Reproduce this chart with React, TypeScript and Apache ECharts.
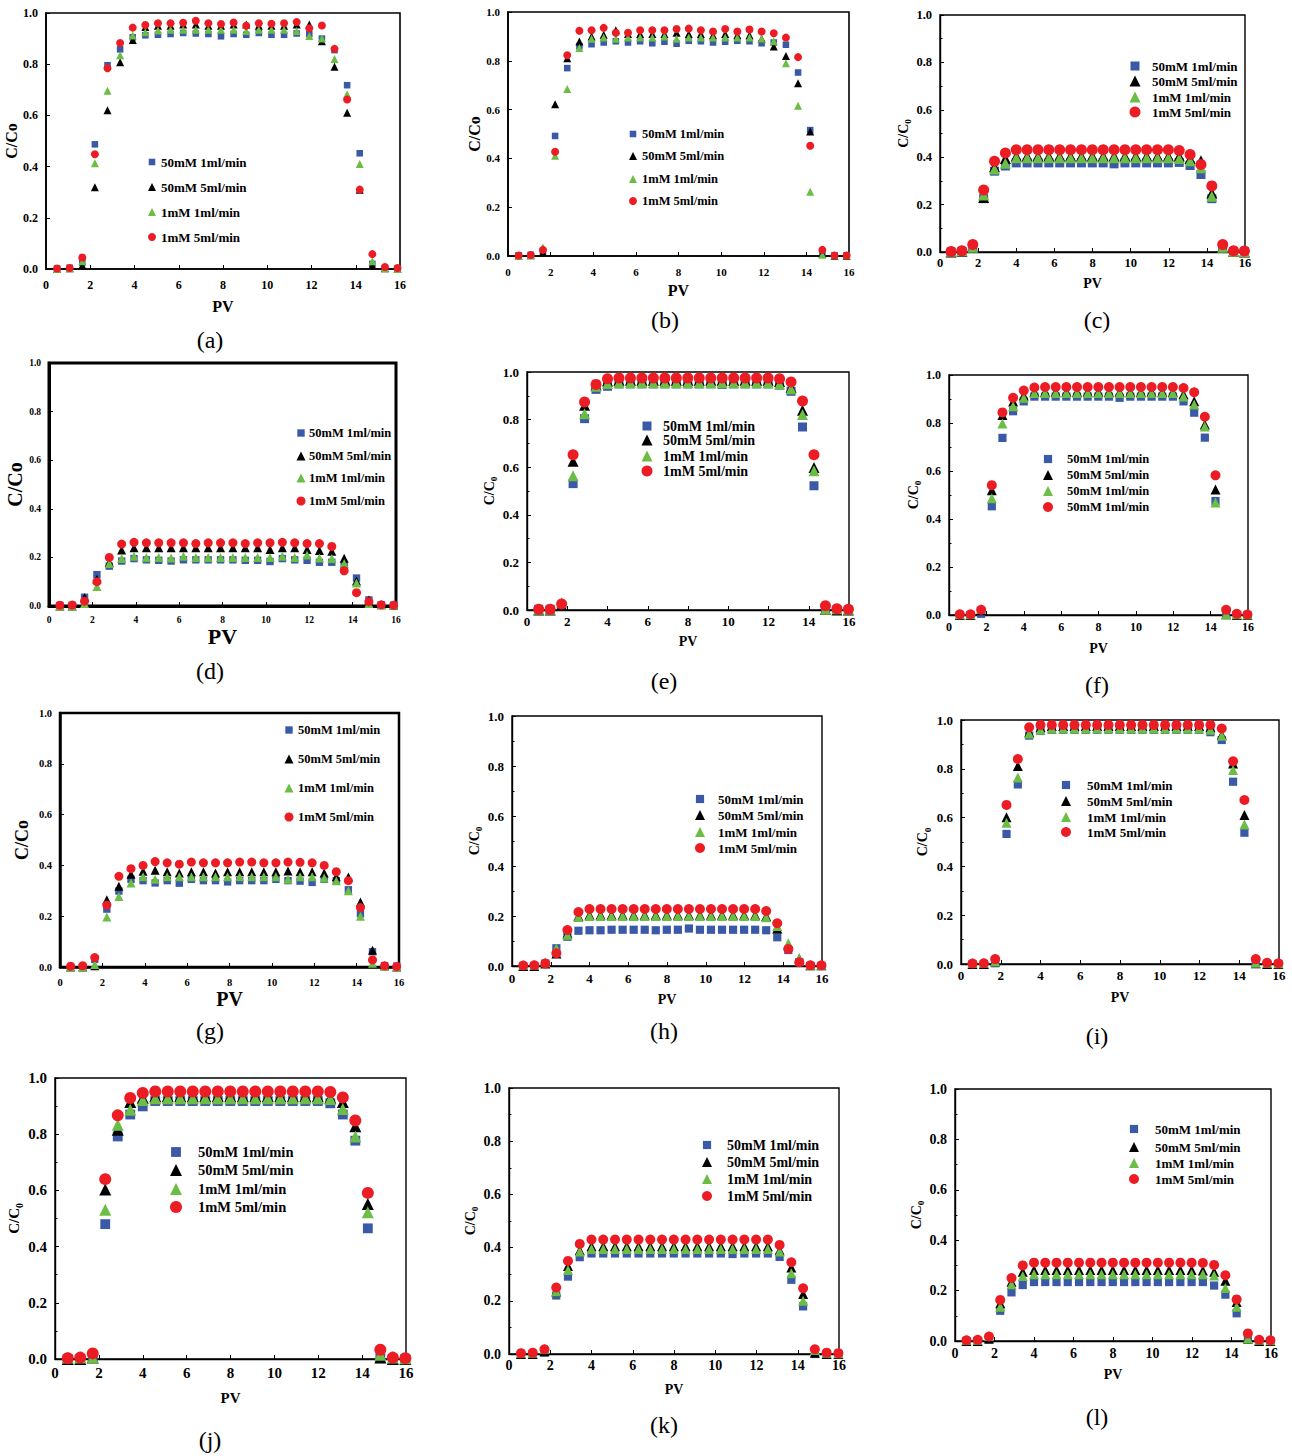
import React, { useEffect, useRef } from "react";
import * as echarts from "echarts";

// Sampling points (pore volumes) for the two column runs
const PV_A = [0.5, 1.07, 1.64, 2.21, 2.78, 3.35, 3.92, 4.49, 5.06, 5.63, 6.2, 6.77, 7.34, 7.91, 8.48, 9.05, 9.62, 10.19, 10.76, 11.33, 11.9, 12.47, 13.04, 13.61, 14.18, 14.75, 15.32, 15.89];
const PV_B = [0.58, 1.15, 1.72, 2.29, 2.86, 3.43, 4.0, 4.57, 5.14, 5.71, 6.28, 6.85, 7.42, 7.99, 8.56, 9.13, 9.7, 10.27, 10.84, 11.41, 11.98, 12.55, 13.12, 13.69, 14.26, 14.83, 15.4, 15.97];

const NAMES = ["50mM 1ml/min", "50mM 5ml/min", "1mM 1ml/min", "1mM 5ml/min"];
const NAMES_F = ["50mM 1ml/min", "50mM 5ml/min", "50mM 1ml/min", "50mM 1ml/min"];
const TAGS = ["(a)", "(b)", "(c)", "(d)", "(e)", "(f)", "(g)", "(h)", "(i)", "(j)", "(k)", "(l)"];

// (a)
const A_50_1 = [0.002, 0.005, 0.025, 0.487, 0.796, 0.858, 0.905, 0.913, 0.915, 0.918, 0.922, 0.92, 0.918, 0.909, 0.918, 0.915, 0.922, 0.915, 0.915, 0.92, 0.918, 0.9, 0.855, 0.718, 0.452, 0.02, 0.003, 0.003];
const A_50_5 = [0, 0.003, 0.015, 0.319, 0.62, 0.808, 0.895, 0.945, 0.95, 0.95, 0.955, 0.955, 0.95, 0.95, 0.955, 0.955, 0.95, 0.95, 0.95, 0.955, 0.955, 0.89, 0.79, 0.61, 0.31, 0.015, 0.003, 0];
const A_1_1 = [0, 0.003, 0.03, 0.413, 0.696, 0.835, 0.912, 0.925, 0.932, 0.935, 0.935, 0.935, 0.935, 0.935, 0.935, 0.93, 0.935, 0.935, 0.935, 0.93, 0.91, 0.9, 0.82, 0.683, 0.41, 0.03, 0.003, 0];
const A_1_5 = [0.002, 0.004, 0.045, 0.448, 0.784, 0.883, 0.943, 0.953, 0.96, 0.96, 0.962, 0.97, 0.96, 0.957, 0.963, 0.95, 0.96, 0.958, 0.96, 0.965, 0.94, 0.951, 0.86, 0.662, 0.31, 0.058, 0.008, 0.004];
// (b)
const B_50_1 = [0.003, 0.005, 0.02, 0.492, 0.77, 0.86, 0.868, 0.875, 0.88, 0.875, 0.88, 0.872, 0.878, 0.87, 0.882, 0.88, 0.875, 0.878, 0.882, 0.88, 0.872, 0.875, 0.866, 0.752, 0.516, 0.01, 0.003, 0.003];
const B_50_5 = [0, 0.003, 0.015, 0.622, 0.81, 0.879, 0.9, 0.907, 0.925, 0.91, 0.91, 0.91, 0.91, 0.915, 0.91, 0.91, 0.905, 0.91, 0.905, 0.905, 0.89, 0.859, 0.82, 0.708, 0.51, 0.01, 0, 0];
const B_1_1 = [0, 0.003, 0.035, 0.411, 0.684, 0.852, 0.89, 0.895, 0.89, 0.895, 0.895, 0.895, 0.9, 0.89, 0.895, 0.895, 0.895, 0.895, 0.895, 0.895, 0.89, 0.88, 0.79, 0.616, 0.263, 0.005, 0.002, 0.002];
const B_1_5 = [0.002, 0.004, 0.025, 0.427, 0.823, 0.923, 0.925, 0.935, 0.915, 0.915, 0.925, 0.925, 0.925, 0.93, 0.932, 0.925, 0.92, 0.93, 0.92, 0.928, 0.92, 0.913, 0.895, 0.815, 0.452, 0.025, 0.002, 0.002];
// (c)
const C_50_1 = [0, 0.002, 0.02, 0.225, 0.341, 0.363, 0.376, 0.376, 0.376, 0.376, 0.376, 0.376, 0.376, 0.376, 0.376, 0.372, 0.376, 0.376, 0.376, 0.376, 0.376, 0.378, 0.365, 0.327, 0.225, 0.015, 0.002, 0.002];
const C_50_5 = [0, 0.003, 0.02, 0.23, 0.36, 0.395, 0.405, 0.405, 0.405, 0.405, 0.405, 0.405, 0.405, 0.405, 0.405, 0.405, 0.405, 0.405, 0.405, 0.405, 0.405, 0.405, 0.395, 0.385, 0.249, 0.02, 0.003, 0];
const C_1_1 = [0.003, 0.005, 0.02, 0.24, 0.35, 0.375, 0.398, 0.398, 0.398, 0.398, 0.398, 0.398, 0.398, 0.398, 0.398, 0.398, 0.398, 0.398, 0.398, 0.398, 0.398, 0.395, 0.385, 0.355, 0.235, 0.02, 0.003, 0.002];
const C_1_5 = [0.002, 0.005, 0.032, 0.262, 0.383, 0.418, 0.431, 0.431, 0.431, 0.431, 0.431, 0.431, 0.431, 0.431, 0.431, 0.431, 0.431, 0.431, 0.431, 0.431, 0.431, 0.428, 0.411, 0.369, 0.279, 0.032, 0.005, 0.004];
// (d)
const D_50_1 = [0.002, 0.003, 0.036, 0.129, 0.164, 0.185, 0.195, 0.19, 0.188, 0.185, 0.19, 0.19, 0.19, 0.19, 0.19, 0.188, 0.188, 0.183, 0.195, 0.19, 0.188, 0.18, 0.18, 0.165, 0.115, 0.025, 0.005, 0.003];
const D_50_5 = [0, 0, 0.035, 0.11, 0.18, 0.23, 0.24, 0.24, 0.24, 0.24, 0.24, 0.24, 0.24, 0.24, 0.24, 0.24, 0.24, 0.232, 0.24, 0.24, 0.232, 0.228, 0.225, 0.196, 0.103, 0.025, 0.005, 0.003];
const D_1_1 = [0, 0, 0.01, 0.08, 0.175, 0.195, 0.205, 0.2, 0.2, 0.198, 0.205, 0.2, 0.2, 0.2, 0.2, 0.2, 0.2, 0.2, 0.205, 0.2, 0.21, 0.198, 0.195, 0.175, 0.095, 0.01, 0.005, 0.003];
const D_1_5 = [0.003, 0.004, 0.02, 0.1, 0.2, 0.255, 0.262, 0.26, 0.26, 0.26, 0.26, 0.257, 0.26, 0.26, 0.26, 0.257, 0.26, 0.26, 0.262, 0.26, 0.257, 0.257, 0.245, 0.145, 0.055, 0.018, 0.005, 0.003];
// (e)
const E_50_1 = [0.003, 0.003, 0.015, 0.531, 0.804, 0.927, 0.94, 0.95, 0.95, 0.95, 0.95, 0.95, 0.95, 0.95, 0.95, 0.95, 0.948, 0.95, 0.95, 0.95, 0.95, 0.945, 0.919, 0.769, 0.522, 0, 0, 0];
const E_50_5 = [0, 0, 0.02, 0.625, 0.86, 0.945, 0.962, 0.965, 0.965, 0.965, 0.965, 0.965, 0.965, 0.965, 0.965, 0.965, 0.965, 0.965, 0.965, 0.965, 0.965, 0.96, 0.935, 0.839, 0.599, 0.003, 0, 0];
const E_1_1 = [0.003, 0.003, 0.03, 0.564, 0.825, 0.94, 0.952, 0.955, 0.955, 0.955, 0.955, 0.955, 0.955, 0.955, 0.955, 0.955, 0.955, 0.955, 0.955, 0.955, 0.955, 0.95, 0.93, 0.821, 0.585, 0.003, 0.005, 0.003];
const E_1_5 = [0.003, 0.003, 0.025, 0.652, 0.874, 0.948, 0.972, 0.975, 0.975, 0.975, 0.975, 0.975, 0.975, 0.975, 0.975, 0.975, 0.975, 0.975, 0.975, 0.975, 0.975, 0.972, 0.958, 0.878, 0.652, 0.018, 0.005, 0.003];
// (f)
const F_50_1 = [0, 0, 0.005, 0.453, 0.738, 0.849, 0.89, 0.91, 0.91, 0.91, 0.91, 0.91, 0.91, 0.91, 0.91, 0.905, 0.91, 0.91, 0.91, 0.91, 0.91, 0.89, 0.843, 0.739, 0.475, 0, 0, 0];
const F_50_5 = [0, 0, 0.02, 0.52, 0.833, 0.89, 0.915, 0.93, 0.93, 0.93, 0.93, 0.93, 0.93, 0.93, 0.93, 0.93, 0.93, 0.93, 0.93, 0.93, 0.93, 0.92, 0.891, 0.794, 0.523, 0.003, 0, 0];
const F_1_1 = [0.003, 0.003, 0.025, 0.486, 0.798, 0.87, 0.905, 0.925, 0.925, 0.925, 0.925, 0.925, 0.925, 0.925, 0.925, 0.925, 0.925, 0.925, 0.925, 0.925, 0.925, 0.91, 0.877, 0.785, 0.469, 0.003, 0.003, 0.002];
const F_1_5 = [0.003, 0.003, 0.022, 0.541, 0.844, 0.905, 0.935, 0.948, 0.95, 0.95, 0.95, 0.95, 0.95, 0.95, 0.95, 0.95, 0.95, 0.95, 0.95, 0.95, 0.95, 0.946, 0.928, 0.826, 0.582, 0.022, 0.005, 0.002];
// (g)
const G_50_1 = [0, 0, 0.03, 0.228, 0.299, 0.345, 0.34, 0.331, 0.34, 0.33, 0.345, 0.34, 0.34, 0.335, 0.34, 0.34, 0.34, 0.345, 0.34, 0.338, 0.333, 0.345, 0.34, 0.304, 0.21, 0.06, 0.005, 0.003];
const G_50_5 = [0, 0, 0.005, 0.265, 0.318, 0.365, 0.377, 0.381, 0.375, 0.37, 0.375, 0.375, 0.37, 0.375, 0.375, 0.375, 0.375, 0.375, 0.378, 0.375, 0.375, 0.37, 0.355, 0.354, 0.256, 0.066, 0.005, 0];
const G_1_1 = [0, 0, 0.01, 0.197, 0.278, 0.331, 0.355, 0.345, 0.355, 0.355, 0.355, 0.355, 0.355, 0.355, 0.355, 0.355, 0.355, 0.355, 0.345, 0.355, 0.355, 0.35, 0.34, 0.3, 0.2, 0.015, 0.003, 0];
const G_1_5 = [0.003, 0.005, 0.037, 0.244, 0.357, 0.387, 0.4, 0.415, 0.41, 0.405, 0.413, 0.41, 0.41, 0.41, 0.413, 0.413, 0.41, 0.41, 0.413, 0.412, 0.41, 0.4, 0.375, 0.34, 0.234, 0.028, 0.005, 0.002];
// (h)
const H_50_1 = [0, 0, 0.01, 0.071, 0.117, 0.141, 0.143, 0.143, 0.145, 0.145, 0.145, 0.145, 0.143, 0.145, 0.145, 0.15, 0.145, 0.145, 0.145, 0.145, 0.145, 0.145, 0.143, 0.115, 0.064, 0.015, 0, 0];
const H_50_5 = [0, 0, 0.01, 0.05, 0.13, 0.2, 0.205, 0.205, 0.205, 0.205, 0.205, 0.205, 0.205, 0.205, 0.205, 0.205, 0.205, 0.205, 0.205, 0.205, 0.205, 0.205, 0.2, 0.15, 0.085, 0.03, 0.003, 0.003];
const H_1_1 = [0.005, 0.005, 0.015, 0.07, 0.125, 0.196, 0.2, 0.2, 0.2, 0.2, 0.2, 0.2, 0.2, 0.2, 0.2, 0.2, 0.2, 0.2, 0.2, 0.2, 0.2, 0.2, 0.195, 0.16, 0.091, 0.03, 0.005, 0.005];
const H_1_5 = [0.002, 0.003, 0.01, 0.051, 0.144, 0.216, 0.228, 0.228, 0.228, 0.228, 0.228, 0.228, 0.228, 0.228, 0.228, 0.228, 0.228, 0.228, 0.228, 0.228, 0.228, 0.228, 0.22, 0.171, 0.068, 0.015, 0.003, 0.003];
// (i)
const I_50_1 = [0, 0, 0.003, 0.533, 0.736, 0.936, 0.955, 0.96, 0.96, 0.96, 0.96, 0.96, 0.96, 0.96, 0.96, 0.96, 0.96, 0.96, 0.96, 0.96, 0.96, 0.95, 0.918, 0.747, 0.538, 0, 0, 0];
const I_50_5 = [0, 0, 0.01, 0.601, 0.811, 0.95, 0.97, 0.975, 0.975, 0.975, 0.975, 0.975, 0.975, 0.975, 0.975, 0.975, 0.975, 0.975, 0.975, 0.975, 0.975, 0.97, 0.94, 0.822, 0.611, 0.003, 0, 0];
const I_1_1 = [0.005, 0.005, 0.01, 0.579, 0.764, 0.945, 0.96, 0.965, 0.965, 0.965, 0.965, 0.965, 0.965, 0.965, 0.965, 0.965, 0.965, 0.965, 0.965, 0.965, 0.965, 0.96, 0.935, 0.795, 0.572, 0.005, 0.005, 0.003];
const I_1_5 = [0.002, 0.003, 0.02, 0.652, 0.84, 0.97, 0.98, 0.98, 0.98, 0.98, 0.98, 0.98, 0.98, 0.98, 0.98, 0.98, 0.98, 0.98, 0.98, 0.98, 0.98, 0.98, 0.965, 0.831, 0.672, 0.02, 0.005, 0.003];
// (j)
const J_50_1 = [0, 0, 0.003, 0.48, 0.792, 0.87, 0.899, 0.918, 0.918, 0.918, 0.918, 0.918, 0.918, 0.918, 0.918, 0.918, 0.918, 0.918, 0.918, 0.918, 0.918, 0.91, 0.87, 0.777, 0.465, 0.003, 0, 0];
const J_50_5 = [0, 0, 0.005, 0.603, 0.816, 0.915, 0.93, 0.935, 0.935, 0.935, 0.935, 0.935, 0.935, 0.935, 0.935, 0.935, 0.935, 0.935, 0.935, 0.935, 0.935, 0.93, 0.915, 0.828, 0.552, 0.005, 0, 0];
const J_1_1 = [0.005, 0.005, 0.005, 0.531, 0.834, 0.887, 0.922, 0.928, 0.928, 0.928, 0.928, 0.928, 0.928, 0.928, 0.928, 0.928, 0.928, 0.928, 0.928, 0.928, 0.928, 0.925, 0.89, 0.792, 0.522, 0.015, 0.005, 0.003];
const J_1_5 = [0.003, 0.005, 0.02, 0.64, 0.867, 0.929, 0.947, 0.952, 0.952, 0.952, 0.952, 0.952, 0.952, 0.952, 0.952, 0.952, 0.952, 0.952, 0.952, 0.952, 0.952, 0.95, 0.931, 0.849, 0.591, 0.033, 0.005, 0.003];
// (k)
const K_50_1 = [0, 0, 0.005, 0.22, 0.291, 0.364, 0.378, 0.378, 0.378, 0.378, 0.378, 0.378, 0.378, 0.378, 0.378, 0.378, 0.378, 0.378, 0.376, 0.378, 0.378, 0.378, 0.365, 0.279, 0.179, 0, 0, 0];
const K_50_5 = [0, 0, 0.01, 0.235, 0.331, 0.39, 0.405, 0.405, 0.405, 0.405, 0.405, 0.405, 0.405, 0.405, 0.405, 0.405, 0.405, 0.405, 0.405, 0.405, 0.405, 0.405, 0.39, 0.325, 0.226, 0.005, 0, 0];
const K_1_1 = [0.005, 0.005, 0.02, 0.235, 0.316, 0.385, 0.395, 0.395, 0.395, 0.395, 0.395, 0.395, 0.395, 0.395, 0.395, 0.395, 0.395, 0.395, 0.395, 0.395, 0.395, 0.395, 0.385, 0.304, 0.2, 0.015, 0.005, 0.003];
const K_1_5 = [0.003, 0.005, 0.018, 0.25, 0.35, 0.414, 0.43, 0.43, 0.43, 0.43, 0.43, 0.43, 0.43, 0.43, 0.43, 0.43, 0.43, 0.43, 0.43, 0.43, 0.43, 0.43, 0.41, 0.345, 0.247, 0.018, 0.005, 0.003];
// (l)
const L_50_1 = [0, 0, 0.005, 0.12, 0.193, 0.222, 0.234, 0.234, 0.234, 0.234, 0.234, 0.234, 0.234, 0.234, 0.234, 0.234, 0.234, 0.234, 0.234, 0.234, 0.234, 0.234, 0.22, 0.184, 0.11, 0.005, 0, 0];
const L_50_5 = [0, 0, 0.01, 0.15, 0.235, 0.275, 0.282, 0.282, 0.282, 0.282, 0.282, 0.282, 0.282, 0.282, 0.282, 0.282, 0.282, 0.282, 0.282, 0.282, 0.282, 0.28, 0.275, 0.239, 0.155, 0.01, 0, 0];
const L_1_1 = [0.005, 0.005, 0.02, 0.136, 0.225, 0.258, 0.265, 0.265, 0.265, 0.265, 0.265, 0.265, 0.265, 0.265, 0.265, 0.265, 0.265, 0.265, 0.265, 0.265, 0.265, 0.265, 0.26, 0.21, 0.136, 0.01, 0.005, 0.003];
const L_1_5 = [0.003, 0.005, 0.018, 0.163, 0.25, 0.3, 0.311, 0.311, 0.311, 0.311, 0.311, 0.311, 0.311, 0.311, 0.311, 0.311, 0.311, 0.311, 0.311, 0.311, 0.311, 0.31, 0.302, 0.261, 0.165, 0.03, 0.005, 0.003];

const PANEL_DATA = [
  { pv: PV_A, names: NAMES, sub: false, runs: [A_50_1, A_50_5, A_1_1, A_1_5] },
  { pv: PV_A, names: NAMES, sub: false, runs: [B_50_1, B_50_5, B_1_1, B_1_5] },
  { pv: PV_B, names: NAMES, sub: true, runs: [C_50_1, C_50_5, C_1_1, C_1_5] },
  { pv: PV_A, names: NAMES, sub: false, runs: [D_50_1, D_50_5, D_1_1, D_1_5] },
  { pv: PV_B, names: NAMES, sub: true, runs: [E_50_1, E_50_5, E_1_1, E_1_5] },
  { pv: PV_B, names: NAMES_F, sub: true, runs: [F_50_1, F_50_5, F_1_1, F_1_5] },
  { pv: PV_A, names: NAMES, sub: false, runs: [G_50_1, G_50_5, G_1_1, G_1_5] },
  { pv: PV_B, names: NAMES, sub: true, runs: [H_50_1, H_50_5, H_1_1, H_1_5] },
  { pv: PV_B, names: NAMES, sub: true, runs: [I_50_1, I_50_5, I_1_1, I_1_5] },
  { pv: PV_B, names: NAMES, sub: true, runs: [J_50_1, J_50_5, J_1_1, J_1_5] },
  { pv: PV_B, names: NAMES, sub: true, runs: [K_50_1, K_50_5, K_1_1, K_1_5] },
  { pv: PV_B, names: NAMES, sub: true, runs: [L_50_1, L_50_5, L_1_1, L_1_5] },
];

// Page layout of each panel (pixels)
const LAYOUT = [
  { l: 46, t: 13, r: 400, b: 269, frame: 1.6, tick: 12, tickM: 10, pvF: 16, pvG: 29, yF: 16, yG: 21, legX: 152, legTX: 161, legY: [162, 187, 212, 237], legF: 13, mk: 8, tagX: 210, tagY: 340, minor: false },
  { l: 508, t: 12, r: 849, b: 256, frame: 1.6, tick: 11, tickM: 10, pvF: 16, pvG: 26, yF: 16, yG: 23, legX: 633, legTX: 642, legY: [134, 156, 179, 201], legF: 12.5, mk: 8, tagX: 665, tagY: 320, minor: false },
  { l: 940, t: 15, r: 1245, b: 252, frame: 1.4, tick: 12.5, tickM: 4, pvF: 14, pvG: 24, yF: 14, yG: 26, legX: 1135, legTX: 1152, legY: [66, 81, 97, 112], legF: 13, mk: 11, tagX: 1097, tagY: 320, minor: true },
  { l: 49, t: 363, r: 396, b: 606, frame: 3, tick: 9.5, tickM: 9, pvF: 22, pvG: 19, yF: 20, yG: 23, legX: 301, legTX: 309, legY: [433, 456, 478, 501], legF: 12.5, mk: 9, tagX: 210, tagY: 671, minor: false },
  { l: 527, t: 372, r: 849, b: 610, frame: 1.4, tick: 13, tickM: 4.5, pvF: 14, pvG: 24, yF: 14, yG: 27, legX: 647, legTX: 663, legY: [426, 440, 456, 471], legF: 14, mk: 11, tagX: 664, tagY: 681, minor: true },
  { l: 949, t: 375, r: 1248, b: 615, frame: 1.4, tick: 12, tickM: 6, pvF: 14, pvG: 26, yF: 14, yG: 25, legX: 1048, legTX: 1067, legY: [459, 475, 491, 507], legF: 12.5, mk: 10, tagX: 1097, tagY: 685, minor: true },
  { l: 60, t: 713, r: 399, b: 967, frame: 2.5, tick: 10.5, tickM: 10, pvF: 20, pvG: 20, yF: 18, yG: 29, legX: 289, legTX: 298, legY: [730, 759, 788, 817], legF: 12.5, mk: 9, tagX: 210, tagY: 1031, minor: false },
  { l: 512, t: 716, r: 822, b: 966, frame: 1.4, tick: 13, tickM: 5.5, pvF: 14, pvG: 26, yF: 14, yG: 27, legX: 700, legTX: 718, legY: [799, 815, 832, 848], legF: 13, mk: 10, tagX: 664, tagY: 1031, minor: true },
  { l: 961, t: 720, r: 1279, b: 964, frame: 1.4, tick: 13, tickM: 4.5, pvF: 14, pvG: 26, yF: 14, yG: 29, legX: 1066, legTX: 1087, legY: [785, 801, 817, 832], legF: 13, mk: 10, tagX: 1097, tagY: 1036, minor: true },
  { l: 55, t: 1078, r: 406, b: 1359, frame: 1.4, tick: 15, tickM: 6.5, pvF: 15, pvG: 31, yF: 15, yG: 31, legX: 176, legTX: 198, legY: [1152, 1170, 1189, 1207], legF: 14.5, mk: 12, tagX: 210, tagY: 1440, minor: true },
  { l: 509, t: 1088, r: 839, b: 1354, frame: 1.4, tick: 14, tickM: 4, pvF: 14, pvG: 28, yF: 14, yG: 28, legX: 707, legTX: 727, legY: [1145, 1162, 1179, 1196], legF: 14, mk: 10, tagX: 664, tagY: 1425, minor: true },
  { l: 955, t: 1089, r: 1271, b: 1341, frame: 1.4, tick: 14, tickM: 5, pvF: 14, pvG: 26, yF: 14, yG: 27, legX: 1134, legTX: 1155, legY: [1129, 1147, 1163, 1179], legF: 13, mk: 10, tagX: 1097, tagY: 1417, minor: true },
];

const FONT = '"Liberation Serif", "Times New Roman", serif';
const COLORS = ["#3a5aa8", "#000000", "#6cbd45", "#ec1c24"];
const SYMBOLS = ["rect", "triangle", "triangle", "circle"];
const SIZE_FACTOR = [0.82, 1, 1, 1];

function legendMarker(kind: string, x: number, y: number, s: number, fill: string) {
  if (kind === "rect") {
    return { type: "rect", shape: { x: x - s / 2, y: y - s / 2, width: s, height: s }, style: { fill } };
  }
  if (kind === "triangle") {
    return { type: "polygon", shape: { points: [[x, y - s / 2], [x + s / 2, y + s / 2], [x - s / 2, y + s / 2]] }, style: { fill } };
  }
  return { type: "circle", shape: { cx: x, cy: y, r: s / 2 }, style: { fill } };
}

function buildOption() {
  const grid: any[] = [];
  const xAxis: any[] = [];
  const yAxis: any[] = [];
  const series: any[] = [];
  const graphic: any[] = [];

  PANEL_DATA.forEach((p, i) => {
    const L = LAYOUT[i];
    grid.push({
      left: L.l,
      top: L.t,
      width: L.r - L.l,
      height: L.b - L.t,
      show: true,
      borderColor: "#000",
      borderWidth: L.frame,
      backgroundColor: "transparent",
    });
    const lineStyle = { color: "#000", width: L.frame };
    xAxis.push({
      gridIndex: i,
      type: "value",
      min: 0,
      max: 16,
      interval: 2,
      name: "PV",
      nameLocation: "middle",
      nameGap: L.pvG,
      nameTextStyle: { fontFamily: FONT, fontWeight: "bold", fontSize: L.pvF, color: "#000" },
      axisLine: { show: true, onZero: false, lineStyle },
      axisTick: { show: true, inside: true, length: 4, lineStyle: { color: "#000", width: 1 } },
      axisLabel: { color: "#000", fontFamily: FONT, fontWeight: "bold", fontSize: L.tick, margin: L.tickM },
      splitLine: { show: false },
    });
    const yFont = L.yF;
    yAxis.push({
      gridIndex: i,
      type: "value",
      min: 0,
      max: 1,
      interval: 0.2,
      name: p.sub ? "{m|C/C}{s|0}" : "C/Co",
      nameLocation: "middle",
      nameGap: L.yG,
      nameTextStyle: {
        fontFamily: FONT,
        fontWeight: "bold",
        fontSize: yFont,
        color: "#000",
        rich: {
          m: { fontFamily: FONT, fontWeight: "bold", fontSize: yFont, color: "#000", lineHeight: yFont * 1.3 },
          s: { fontFamily: FONT, fontWeight: "bold", fontSize: yFont * 0.65, color: "#000", verticalAlign: "bottom" },
        },
      },
      axisLine: { show: true, onZero: false, lineStyle },
      axisTick: { show: true, inside: true, length: 4, lineStyle: { color: "#000", width: 1 } },
      minorTick: { show: L.minor, splitNumber: 2, length: 2.5, lineStyle: { color: "#000", width: 1 } },
      axisLabel: {
        color: "#000",
        fontFamily: FONT,
        fontWeight: "bold",
        fontSize: L.tick,
        formatter: (v: number) => v.toFixed(1),
      },
      splitLine: { show: false },
    });

    p.runs.forEach((vals, k) => {
      series.push({
        type: "scatter",
        name: p.names[k],
        xAxisIndex: i,
        yAxisIndex: i,
        symbol: SYMBOLS[k],
        symbolSize: L.mk * SIZE_FACTOR[k],
        itemStyle: { color: COLORS[k], opacity: 1 },
        clip: false,
        data: p.pv.map((x, j) => [x, vals[j]]),
        z: 2 + k,
      });
      // legend entry
      graphic.push(legendMarker(SYMBOLS[k], L.legX, L.legY[k], L.mk * SIZE_FACTOR[k], COLORS[k]));
      graphic.push({
        type: "text",
        x: L.legTX,
        y: L.legY[k],
        style: {
          text: p.names[k],
          fill: "#000",
          fontFamily: FONT,
          fontWeight: "bold",
          fontSize: L.legF,
          textAlign: "left",
          textVerticalAlign: "middle",
        },
      });
    });

    graphic.push({
      type: "text",
      x: L.tagX,
      y: L.tagY,
      style: {
        text: TAGS[i],
        fill: "#000",
        fontFamily: FONT,
        fontSize: 24,
        textAlign: "center",
        textVerticalAlign: "middle",
      },
    });
  });

  return {
    animation: false,
    backgroundColor: "#ffffff",
    grid,
    xAxis,
    yAxis,
    series,
    graphic,
  };
}

export default function App() {
  const ref = useRef<HTMLDivElement | null>(null);
  useEffect(() => {
    if (!ref.current) return;
    const chart = echarts.init(ref.current, undefined, { renderer: "svg" });
    chart.setOption(buildOption() as any);
    return () => chart.dispose();
  }, []);
  return (
    <div
      ref={ref}
      style={{ position: "absolute", left: 0, top: 0, width: 1292, height: 1456, background: "#fff" }}
    />
  );
}
